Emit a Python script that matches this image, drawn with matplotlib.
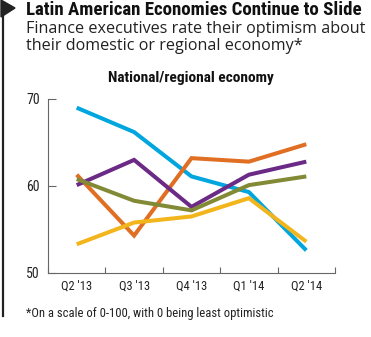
import matplotlib
matplotlib.use("Agg")
import matplotlib.pyplot as plt
from matplotlib import font_manager as fm
from matplotlib.patches import Polygon
from matplotlib.lines import Line2D

quarters = ["Q2 '13", "Q3 '13", "Q4 '13", "Q1 '14", "Q2 '14"]
series_blue = [69.0, 66.2, 61.1, 59.3, 52.6]
series_orange = [61.3, 54.3, 63.2, 62.8, 64.8]
series_purple = [60.1, 63.0, 57.6, 61.3, 62.8]
series_olive = [60.8, 58.3, 57.2, 60.1, 61.1]
series_yellow = [53.3, 55.8, 56.5, 58.6, 53.6]
y_ticks = [50, 60, 70]

colors = {
    "blue": "#00a6dd",
    "orange": "#e06e23",
    "purple": "#6b2a86",
    "olive": "#838a36",
    "yellow": "#f2b51c",
}

installed = set(f.name for f in fm.fontManager.ttflist)


def pick(*names):
    for n in names:
        if n in installed:
            return n
    return "DejaVu Sans"


COND = pick("Roboto Condensed", "Barlow Semi Condensed", "Archivo Narrow",
            "PT Sans Narrow", "Open Sans Condensed", "Liberation Sans Narrow",
            "DejaVu Sans Condensed", "Roboto")
REG = pick("Open Sans", "Noto Sans", "DejaVu Sans")

W, H = 371, 337
fig = plt.figure(figsize=(W / 100, H / 100), dpi=100)
fig.patch.set_facecolor("white")
renderer = fig.canvas.get_renderer()


def fx(px):
    return px / W


def fy(py):
    return 1 - py / H


def fit(t, target_px):
    """Scale a text's font size so it spans target_px horizontally."""
    for _ in range(3):
        w = t.get_window_extent(renderer=renderer).width
        t.set_fontsize(t.get_fontsize() * target_px / w)


# left rule with arrow head
fig.add_artist(Line2D([fx(3), fx(3)], [fy(4), fy(316)], color="#222222", lw=1.6,
                      transform=fig.transFigure))
fig.add_artist(Polygon([[fx(1), fy(0)], [fx(1), fy(17)], [fx(15), fy(8)]],
                       closed=True, color="#222222", transform=fig.transFigure))

t = fig.text(fx(26), fy(10), "Latin American Economies Continue to Slide",
             fontsize=11, fontweight="bold", family=COND,
             va="center", ha="left", color="#111111")
fit(t, 336)
t = fig.text(fx(26), fy(29), "Finance executives rate their optimism about",
             fontsize=10.6, family=REG, va="center", ha="left", color="#222222")
fit(t, 339)
t2 = fig.text(fx(26), fy(46), "their domestic or regional economy*",
              fontsize=t.get_fontsize(), family=REG, va="center", ha="left",
              color="#222222")
t = fig.text(fx(191), fy(78), "National/regional economy",
             fontsize=8.2, fontweight="bold", family=COND,
             va="center", ha="center", color="#111111")
fit(t, 165)
t = fig.text(fx(26), fy(313), "*On a scale of 0-100, with 0 being least optimistic",
             fontsize=6.6, family=COND, va="center", ha="left", color="#222222")
fit(t, 248)

ax = fig.add_axes([fx(48), fy(273), fx(335) - fx(48), fy(99) - fy(273)])
x = list(range(len(quarters)))
for vals, c in [(series_blue, "blue"), (series_orange, "orange"),
                (series_purple, "purple"), (series_olive, "olive"),
                (series_yellow, "yellow")]:
    ax.plot(x, vals, color=colors[c], lw=2.9, solid_joinstyle="miter",
            solid_capstyle="butt")

ax.set_xlim(-0.5, len(quarters) - 0.5)
ax.set_ylim(50, 70)
ax.set_yticks(y_ticks)
ax.set_yticklabels([str(v) for v in y_ticks], family=COND,
                   fontsize=10, color="#222222")
ax.set_xticks([i - 0.5 for i in range(len(quarters) + 1)])
ax.set_xticklabels([])
ax.set_xticks(x, minor=True)
ax.set_xticklabels(quarters, minor=True, family=COND,
                   fontsize=9, color="#222222")
ax.tick_params(axis="x", which="major", direction="in", length=4, width=0.8,
               color="#666666")
ax.tick_params(axis="x", which="minor", length=0, pad=5)
ax.tick_params(axis="y", direction="in", length=6, width=0.8, color="#666666", pad=6)
for s in ["top", "right"]:
    ax.spines[s].set_visible(False)
for s in ["left", "bottom"]:
    ax.spines[s].set_color("#666666")
    ax.spines[s].set_linewidth(0.8)
ax.set_facecolor("none")

fig.savefig("out.png", dpi=100, facecolor="white")
